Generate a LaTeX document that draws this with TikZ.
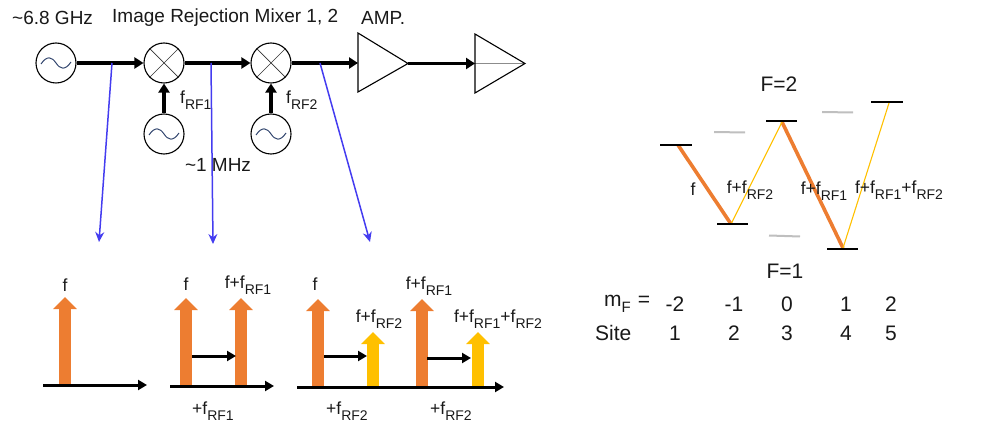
\documentclass[tikz,border=0pt]{standalone}
\usepackage{fontspec}
\setmainfont{Liberation Sans}
\usetikzlibrary{arrows.meta,calc}
\newcommand{\rfs}[1]{\raisebox{-0.32em}{\fontsize{14}{14}\selectfont RF#1}}
\definecolor{orangeP}{RGB}{237,125,49}
\definecolor{yellowP}{RGB}{255,192,0}
\definecolor{waveC}{RGB}{50,70,110}
\definecolor{blueP}{RGB}{68,60,240}
\tikzset{
  x=1pt,y=-1pt,
  txt/.style={inner sep=0,font=\fontsize{19}{22}\selectfont,text=black!90},
  big/.style={inner sep=0,font=\fontsize{21}{24}\selectfont,text=black!90},
  lbl/.style={inner sep=0,font=\fontsize{17.5}{20}\selectfont,text=black!90},
  roundnode/.style={draw,circle,minimum size=40,inner sep=0,line width=1.1},
  sig/.style={line width=3.6,-{Triangle[length=9,width=11]}},
  axisline/.style={line width=3,-{Triangle[length=9,width=10]}},
  shiftarrow/.style={line width=3,-{Triangle[length=9,width=10]}},
  pointer/.style={draw=blueP,line width=1.5,-{Stealth[length=10,width=9]}},
  peako/.style={draw=orangeP,line width=11.5,-{Triangle[length=12,width=23]}},
  peaky/.style={draw=yellowP,line width=11.5,-{Triangle[length=12,width=23]}},
  lev/.style={line width=2,draw=black},
  ghost/.style={line width=2,draw=black!25},
  troa/.style={draw=orangeP,line width=3.6},
  troy/.style={draw=yellowP,line width=1.1},
}
\newcommand{\wave}[1]{\draw[waveC,line width=1] ($(#1)+(-15,1)$) .. controls ($(#1)+(-9,-8)$) and ($(#1)+(-4,-6)$) .. ($(#1)+(0,0)$) .. controls ($(#1)+(4,6)$) and ($(#1)+(9,8)$) .. ($(#1)+(15,-1)$);}
\newcommand{\cross}[1]{\draw[line width=0.7,black!80] (#1.45) -- (#1.225) (#1.135) -- (#1.315);}
\begin{document}
\begin{tikzpicture}
\useasboundingbox (0,0) rectangle (981,430);
% top labels
\node[txt,anchor=west] (t1) at (12,18) {\textasciitilde 6.8 GHz};
\node[txt,anchor=west] (t2) at (112,18) {Image Rejection Mixer 1, 2};
\node[txt,anchor=west] (t3) at (361,18) {AMP.};
% chain
\node[roundnode] (osc1) at (56,63) {};
\node[roundnode] (mix1) at (164,63) {};
\node[roundnode] (mix2) at (271,63) {};
\node[roundnode] (osc2) at (164,134) {};
\node[roundnode] (osc3) at (271,134) {};
\wave{osc1}\wave{osc2}\wave{osc3}
\cross{mix1}\cross{mix2}
\coordinate (a1in) at (358,63);
\coordinate (a1out) at (408,63.5);
\coordinate (a2in) at (475,63.5);
\coordinate (a2out) at (525,63.5);
\draw[line width=1.1,line join=miter] (358,33) -- (a1out) -- (358,92) -- cycle;
\draw[black!45,line width=1] (a2in) -- (a2out);
\draw[line width=1.1] (475,34) -- (a2out) -- (475,93) -- cycle;
\draw[sig] (osc1) -- (mix1);
\draw[sig] (mix1) -- (mix2);
\draw[sig] (mix2) -- (a1in);
\draw[sig] (a1out) -- (a2in);
\draw[sig] (osc2) -- (mix1);
\draw[sig] (osc3) -- (mix2);
\node[lbl,anchor=west] (l1) at (180,100) {f\rfs{1}};
\node[lbl,anchor=west] (l2) at (286,100) {f\rfs{2}};
\node[txt,anchor=center] (mhz) at (218,165) {\textasciitilde 1 MHz};
% pointers
\coordinate (b1s) at (112,63); \coordinate (b1e) at (99,242);
\coordinate (b2s) at (211,63); \coordinate (b2e) at (213,244);
\coordinate (b3s) at (320,63); \coordinate (b3e) at (370,242);
\draw[pointer] (b1s) -- (b1e);
\draw[pointer] (b2s) -- (b2e);
\draw[pointer] (b3s) -- (b3e);
% spectrum 1
\coordinate (s1a) at (43,385); \coordinate (s1b) at (147,385);
\coordinate (p1a) at (65,385); \coordinate (p1b) at (65,297);
\draw[peako] (p1a) -- (p1b);
\draw[axisline] (s1a) -- (s1b);
\node[lbl] (f1) at (65,285) {f};
% spectrum 2
\coordinate (s2a) at (170,386); \coordinate (s2b) at (274,386);
\coordinate (p2a) at (186,386); \coordinate (p2b) at (186,298);
\coordinate (p3a) at (241,386); \coordinate (p3b) at (241,298);
\draw[peako] (p2a) -- (p2b);
\draw[peako] (p3a) -- (p3b);
\draw[axisline] (s2a) -- (s2b);
\coordinate (m2a) at (192,356); \coordinate (m2b) at (236,356);
\draw[shiftarrow] (m2a) -- (m2b);
\node[lbl] (f2) at (186,284) {f};
\node[lbl] (f3) at (248,285) {f+f\rfs{1}};
\node[lbl] (f4) at (213,411) {+f\rfs{1}};
% spectrum 3
\coordinate (s3a) at (297,387); \coordinate (s3b) at (504,387);
\coordinate (p4a) at (318,386); \coordinate (p4b) at (318,299);
\coordinate (p5a) at (373,386); \coordinate (p5b) at (373,332);
\coordinate (p6a) at (422,386); \coordinate (p6b) at (422,299);
\coordinate (p7a) at (478,386); \coordinate (p7b) at (478,332);
\draw[peako] (p4a) -- (p4b);
\draw[peaky] (p5a) -- (p5b);
\draw[peako] (p6a) -- (p6b);
\draw[peaky] (p7a) -- (p7b);
\draw[axisline] (s3a) -- (s3b);
\coordinate (m3a) at (324,356); \coordinate (m3b) at (367,356);
\coordinate (m4a) at (427,358); \coordinate (m4b) at (471,358);
\draw[shiftarrow] (m3a) -- (m3b);
\draw[shiftarrow] (m4a) -- (m4b);
\node[lbl] (f5) at (315,284) {f};
\node[lbl] (f6) at (379,319) {f+f\rfs{2}};
\node[lbl] (f7) at (429,286) {f+f\rfs{1}};
\node[lbl] (f8) at (498,319) {f+f\rfs{1}+f\rfs{2}};
\node[lbl] (f9) at (347,411) {+f\rfs{2}};
\node[lbl] (f10) at (451,411) {+f\rfs{2}};
% level diagram
\node[big] (F2) at (779,84) {F=2};
\node[big] (F1) at (785,271) {F=1};
\coordinate (L1) at (678,145); \coordinate (L2) at (731,224);
\coordinate (L3) at (782,122); \coordinate (L4) at (843,248);
\coordinate (L5) at (889,103);
\draw[troa] (L1) -- (L2);
\draw[troa] (L3) -- (L4);
\draw[troy] (L2) -- (L3);
\draw[troy] (L4) -- (L5);
\draw[lev] (660,145) -- (692,145);
\draw[lev] (717,224) -- (748,224);
\draw[lev] (766,121.5) -- (797,121.5);
\draw[lev] (827,248.5) -- (858,248.5);
\draw[lev] (871,102.5) -- (903,102.5);
\draw[ghost] (714,132) -- (745,132.5);
\draw[ghost] (769,235.5) -- (800,236.5);
\draw[ghost] (822,112) -- (853,112.5);
\node[lbl] (t5) at (693,189) {f};
\node[lbl] (t6) at (750,190) {f+f\rfs{2}};
\node[lbl] (t7) at (824,191) {f+f\rfs{1}};
\node[lbl] (t8) at (899,190) {f+f\rfs{1}+f\rfs{2}};
% table
\node[big,anchor=west] (mf) at (604,304) {m\raisebox{-0.3em}{\fontsize{15}{15}\selectfont F}\,\,=};
\node[big,anchor=west] (site) at (595,333) {Site};
\foreach \n/\x/\a/\b in {a/675/-2/1,b/734/-1/2,c/787/0/3,d/846/1/4,e/891/2/5}{
  \node[big] (m\n) at (\x,304) {\a};
  \node[big] (s\n) at (\x,333) {\b};
}
\end{tikzpicture}
\end{document}
